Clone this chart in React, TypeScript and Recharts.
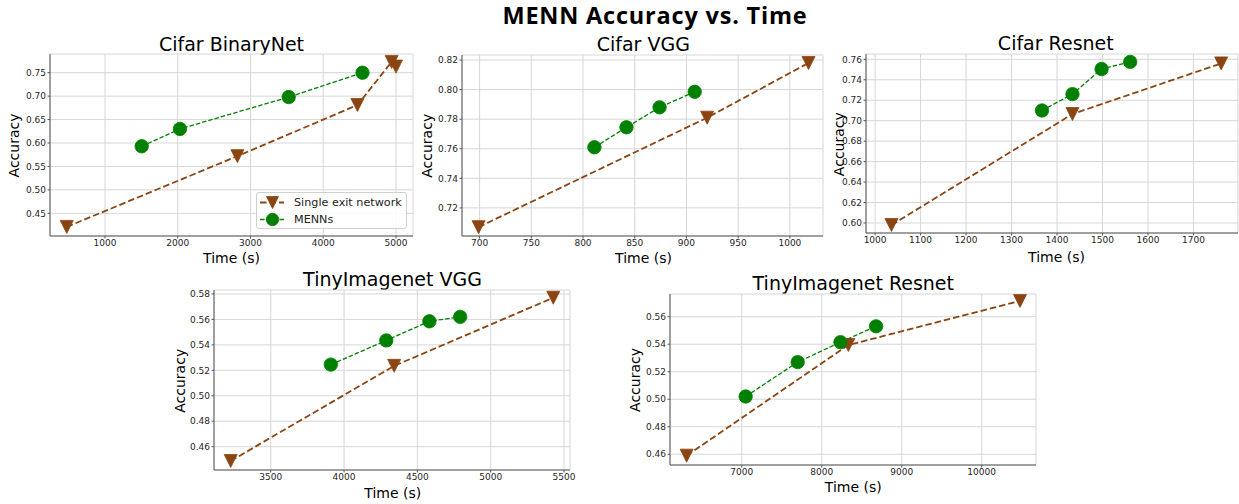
import React from 'react';
import { LineChart, Line, XAxis, YAxis, CartesianGrid, Legend } from 'recharts';

// ---------- Data ----------
const singleExitName = 'Single exit network';
const mennName = 'MENNs';
const legendOrder = [singleExitName, mennName];

const cifarBinaryNetSingleTime = [474, 2820, 4470, 4940, 5000];
const cifarBinaryNetSingleAcc = [0.421, 0.572, 0.681, 0.773, 0.763];
const cifarBinaryNetMennTime = [1505, 2030, 3525, 4540];
const cifarBinaryNetMennAcc = [0.593, 0.63, 0.698, 0.75];

const cifarVggSingleTime = [699, 920, 1018];
const cifarVggSingleAcc = [0.707, 0.781, 0.818];
const cifarVggMennTime = [811, 842, 874, 908];
const cifarVggMennAcc = [0.761, 0.7745, 0.788, 0.7985];

const cifarResnetSingleTime = [1036, 1434, 1761];
const cifarResnetSingleAcc = [0.598, 0.7065, 0.756];
const cifarResnetMennTime = [1367, 1434, 1498, 1561];
const cifarResnetMennAcc = [0.71, 0.726, 0.7505, 0.7575];

const tinyVggSingleTime = [3227, 4342, 5427];
const tinyVggSingleAcc = [0.4488, 0.5235, 0.577];
const tinyVggMennTime = [3910, 4288, 4582, 4792];
const tinyVggMennAcc = [0.5245, 0.5435, 0.5585, 0.562];

const tinyResnetSingleTime = [6312, 8333, 10479];
const tinyResnetSingleAcc = [0.459, 0.5394, 0.5715];
const tinyResnetMennTime = [7050, 7700, 8235, 8680];
const tinyResnetMennAcc = [0.502, 0.527, 0.5415, 0.553];

const cifarBinaryNetXTicks = [1000, 2000, 3000, 4000, 5000];
const cifarBinaryNetYTicks = [0.45, 0.5, 0.55, 0.6, 0.65, 0.7, 0.75];
const cifarVggXTicks = [700, 750, 800, 850, 900, 950, 1000];
const cifarVggYTicks = [0.72, 0.74, 0.76, 0.78, 0.8, 0.82];
const cifarResnetXTicks = [1000, 1100, 1200, 1300, 1400, 1500, 1600, 1700];
const cifarResnetYTicks = [0.6, 0.62, 0.64, 0.66, 0.68, 0.7, 0.72, 0.74, 0.76];
const tinyVggXTicks = [3500, 4000, 4500, 5000, 5500];
const tinyVggYTicks = [0.46, 0.48, 0.5, 0.52, 0.54, 0.56, 0.58];
const tinyResnetXTicks = [7000, 8000, 9000, 10000];
const tinyResnetYTicks = [0.46, 0.48, 0.5, 0.52, 0.54, 0.56];

const mainTitle = 'MENN Accuracy vs. Time';
const xLabel = 'Time (s)';
const yLabel = 'Accuracy';

// ---------- Styles ----------
const BROWN = '#8B4513';
const GREEN = '#008000';
const FONT = 'DejaVu Sans, sans-serif';

const TriangleDown = ({ cx, cy, r = 6.5, color = BROWN }: any) => (
  <polygon
    points={`${cx - r},${cy - r} ${cx + r},${cy - r} ${cx},${cy + r}`}
    fill={color}
    stroke={color}
    strokeWidth={0.8}
    strokeLinejoin="miter"
  />
);

const CircleDot = ({ cx, cy, r = 6.7, color = GREEN }: any) => (
  <circle cx={cx} cy={cy} r={r} fill={color} stroke={color} strokeWidth={0.8} />
);

const renderLegend = (props: any) => {
  const payload = [...(props.payload || [])].sort(
    (a: any, b: any) => legendOrder.indexOf(a.value) - legendOrder.indexOf(b.value)
  );
  return (
    <div
      style={{
        width: 151,
        height: 37,
        boxSizing: 'border-box',
        border: '1px solid #d0d0d0',
        borderRadius: 3,
        background: 'rgba(255,255,255,0.85)',
        fontFamily: FONT,
        fontSize: 11.2,
        color: '#222',
        paddingTop: 0.5,
      }}
    >
      {payload.map((entry: any, i: number) => {
        const isSingle = entry.value === singleExitName;
        return (
          <div key={i} style={{ display: 'flex', alignItems: 'center', height: 17 }}>
            <svg width={37} height={17} style={{ display: 'block', flex: 'none' }}>
              <line
                x1={3}
                x2={27}
                y1={8.5}
                y2={8.5}
                stroke={entry.color}
                strokeWidth={isSingle ? 1.8 : 1.3}
                strokeDasharray={isSingle ? '6.5 3' : '4.5 2'}
              />
              {isSingle ? (
                <TriangleDown cx={15.5} cy={8.5} r={6} color={entry.color} />
              ) : (
                <CircleDot cx={15.5} cy={8.5} r={6.2} color={entry.color} />
              )}
            </svg>
            <span style={{ whiteSpace: 'nowrap', lineHeight: '17px' }}>{entry.value}</span>
          </div>
        );
      })}
    </div>
  );
};

type Rect = { x: number; y: number; w: number; h: number };

type PanelProps = {
  singleTime: number[];
  singleAcc: number[];
  mennTime: number[];
  mennAcc: number[];
  xTicks: number[];
  yTicks: number[];
  xDomain: [number, number];
  yDomain: [number, number];
  plot: Rect;
  legendPos?: { left: number; top: number };
};

const Panel = ({
  singleTime,
  singleAcc,
  mennTime,
  mennAcc,
  xTicks,
  yTicks,
  xDomain,
  yDomain,
  plot,
  legendPos,
}: PanelProps) => {
  const singleData = singleTime.map((t, i) => ({ time: t, acc: singleAcc[i] }));
  const mennData = mennTime.map((t, i) => ({ time: t, acc: mennAcc[i] }));
  const tickStyle = { fontSize: 9, fill: '#262626', fontFamily: FONT };
  return (
    <div style={{ position: 'absolute', left: plot.x - 50, top: plot.y - 10 }}>
      <LineChart
        width={plot.w + 60}
        height={plot.h + 40}
        margin={{ top: 10, right: 10, left: 10, bottom: 10 }}
      >
        <CartesianGrid stroke="#d6d6d6" strokeWidth={1} />
        <XAxis
          dataKey="time"
          type="number"
          domain={xDomain}
          allowDataOverflow
          ticks={xTicks}
          interval={0}
          tickSize={2.5}
          tickMargin={1.5}
          height={20}
          tick={tickStyle}
          stroke="#555"
          tickFormatter={(v: number) => String(v)}
        />
        <YAxis
          type="number"
          domain={yDomain}
          allowDataOverflow
          ticks={yTicks}
          interval={0}
          tickSize={2.5}
          tickMargin={1.5}
          width={40}
          tick={tickStyle}
          stroke="#555"
          tickFormatter={(v: number) => v.toFixed(2)}
        />
        <XAxis
          xAxisId="top"
          orientation="top"
          type="number"
          domain={xDomain}
          height={0}
          tick={false}
          tickLine={false}
          stroke="#555"
        />
        <YAxis
          yAxisId="right"
          orientation="right"
          type="number"
          domain={yDomain}
          width={0}
          tick={false}
          tickLine={false}
          stroke="#555"
        />
        <Line
          data={singleData}
          dataKey="acc"
          name={singleExitName}
          stroke={BROWN}
          strokeWidth={1.8}
          strokeDasharray="6.5 3"
          dot={(p: any) => <TriangleDown key={`s${p.index}`} cx={p.cx} cy={p.cy} />}
          activeDot={false}
          isAnimationActive={false}
        />
        <Line
          data={mennData}
          dataKey="acc"
          name={mennName}
          stroke={GREEN}
          strokeWidth={1.3}
          strokeDasharray="4.5 2"
          dot={(p: any) => <CircleDot key={`m${p.index}`} cx={p.cx} cy={p.cy} />}
          activeDot={false}
          isAnimationActive={false}
        />
        {legendPos && (
          <Legend
            layout="horizontal"
            verticalAlign="middle"
            align="center"
            content={renderLegend}
            wrapperStyle={{ left: legendPos.left, top: legendPos.top, width: 151, height: 37 }}
          />
        )}
      </LineChart>
    </div>
  );
};

type TextSpec = {
  title: string;
  titleX: number;
  titleY: number;
  xLabelX: number;
  xLabelY: number;
  yLabelX: number;
  yLabelY: number;
};

const panelTexts: TextSpec[] = [
  { title: 'Cifar BinaryNet', titleX: 231.5, titleY: 50.5, xLabelX: 231.5, xLabelY: 263.3, yLabelX: 18.5, yLabelY: 145.5 },
  { title: 'Cifar VGG', titleX: 643.3, titleY: 50.5, xLabelX: 643.5, xLabelY: 263.3, yLabelX: 432, yLabelY: 145.8 },
  { title: 'Cifar Resnet', titleX: 1055.8, titleY: 49.5, xLabelX: 1056.5, xLabelY: 261.5, yLabelX: 844.2, yLabelY: 144.2 },
  { title: 'TinyImagenet VGG', titleX: 392.5, titleY: 285.7, xLabelX: 392.8, xLabelY: 498.2, yLabelX: 185.2, yLabelY: 380.8 },
  { title: 'TinyImagenet Resnet', titleX: 853.3, titleY: 290, xLabelX: 853.3, xLabelY: 491.7, yLabelX: 640.2, yLabelY: 380 },
];

export default function App() {
  return (
    <div
      style={{
        position: 'absolute',
        left: 0,
        top: 0,
        width: 1239,
        height: 504,
        overflow: 'hidden',
        background: '#ffffff',
      }}
    >
      <svg width={1239} height={504} style={{ position: 'absolute', left: 0, top: 0 }}>
        <text
          x={655}
          y={23.5}
          textAnchor="middle"
          fontFamily="Open Sans, sans-serif"
          fontWeight={700}
          fontSize={23.5}
          letterSpacing={0.8}
          fill="#000"
        >
          {mainTitle}
        </text>
        {panelTexts.map((t, i) => (
          <g key={i} fontFamily={FONT} fill="#000">
            <text x={t.titleX} y={t.titleY} textAnchor="middle" fontSize={19}>
              {t.title}
            </text>
            <text x={t.xLabelX} y={t.xLabelY} textAnchor="middle" fontSize={14}>
              {xLabel}
            </text>
            <text
              transform={`translate(${t.yLabelX},${t.yLabelY}) rotate(-90)`}
              textAnchor="middle"
              fontSize={14}
            >
              {yLabel}
            </text>
          </g>
        ))}
      </svg>

      <Panel
        singleTime={cifarBinaryNetSingleTime}
        singleAcc={cifarBinaryNetSingleAcc}
        mennTime={cifarBinaryNetMennTime}
        mennAcc={cifarBinaryNetMennAcc}
        xTicks={cifarBinaryNetXTicks}
        yTicks={cifarBinaryNetYTicks}
        xDomain={[244, 5234]}
        yDomain={[0.4016, 0.7899]}
        plot={{ x: 50, y: 54, w: 363, h: 182 }}
        legendPos={{ left: 256, top: 148.3 }}
      />
      <Panel
        singleTime={cifarVggSingleTime}
        singleAcc={cifarVggSingleAcc}
        mennTime={cifarVggMennTime}
        mennAcc={cifarVggMennAcc}
        xTicks={cifarVggXTicks}
        yTicks={cifarVggYTicks}
        xDomain={[683, 1032]}
        yDomain={[0.701, 0.8234]}
        plot={{ x: 462, y: 55, w: 361, h: 181 }}
      />
      <Panel
        singleTime={cifarResnetSingleTime}
        singleAcc={cifarResnetSingleAcc}
        mennTime={cifarResnetMennTime}
        mennAcc={cifarResnetMennAcc}
        xTicks={cifarResnetXTicks}
        yTicks={cifarResnetYTicks}
        xDomain={[980, 1798]}
        yDomain={[0.5902, 0.7652]}
        plot={{ x: 866, y: 54, w: 372, h: 179 }}
      />
      <Panel
        singleTime={tinyVggSingleTime}
        singleAcc={tinyVggSingleAcc}
        mennTime={tinyVggMennTime}
        mennAcc={tinyVggMennAcc}
        xTicks={tinyVggXTicks}
        yTicks={tinyVggYTicks}
        xDomain={[3113, 5541]}
        yDomain={[0.4417, 0.5831]}
        plot={{ x: 214, y: 290, w: 356, h: 180 }}
      />
      <Panel
        singleTime={tinyResnetSingleTime}
        singleAcc={tinyResnetSingleAcc}
        mennTime={tinyResnetMennTime}
        mennAcc={tinyResnetMennAcc}
        xTicks={tinyResnetXTicks}
        yTicks={tinyResnetYTicks}
        xDomain={[6104, 10679]}
        yDomain={[0.4522, 0.5765]}
        plot={{ x: 670, y: 294, w: 366, h: 171 }}
      />
    </div>
  );
}
